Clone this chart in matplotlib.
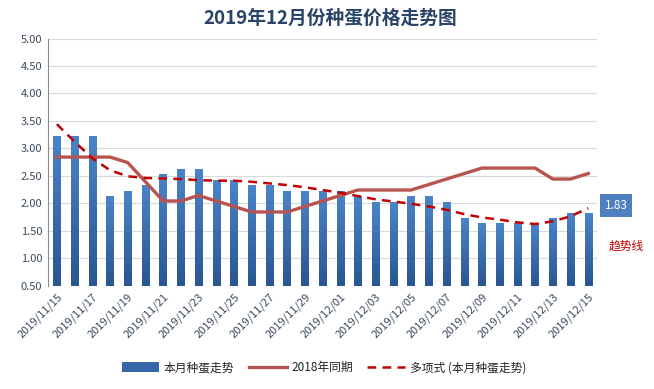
import matplotlib
matplotlib.use("Agg")
import matplotlib.pyplot as plt
import numpy as np
from matplotlib.colors import LinearSegmentedColormap
from matplotlib.patches import Patch

plt.rcParams['font.family'] = ['Noto Sans CJK SC', 'DejaVu Sans']

dates = ["2019/11/15", "2019/11/16", "2019/11/17", "2019/11/18", "2019/11/19", "2019/11/20",
         "2019/11/21", "2019/11/22", "2019/11/23", "2019/11/24", "2019/11/25", "2019/11/26",
         "2019/11/27", "2019/11/28", "2019/11/29", "2019/11/30", "2019/12/01", "2019/12/02",
         "2019/12/03", "2019/12/04", "2019/12/05", "2019/12/06", "2019/12/07", "2019/12/08",
         "2019/12/09", "2019/12/10", "2019/12/11", "2019/12/12", "2019/12/13", "2019/12/14",
         "2019/12/15"]
this_month = [3.23, 3.23, 3.23, 2.13, 2.23, 2.33, 2.53, 2.63, 2.63, 2.43, 2.43, 2.33,
              2.33, 2.23, 2.23, 2.23, 2.23, 2.13, 2.03, 2.03, 2.13, 2.13, 2.03, 1.73,
              1.63, 1.63, 1.63, 1.63, 1.73, 1.83, 1.83]
last_year = [2.84, 2.84, 2.84, 2.84, 2.74, 2.39, 2.04, 2.04, 2.14, 2.04, 1.94, 1.84,
             1.84, 1.84, 1.94, 2.04, 2.14, 2.24, 2.24, 2.24, 2.24, 2.34, 2.44, 2.54,
             2.64, 2.64, 2.64, 2.64, 2.44, 2.44, 2.54]
trend = [3.44, 3.12, 2.82, 2.60, 2.49, 2.46, 2.45, 2.44, 2.42, 2.41, 2.41, 2.39,
         2.36, 2.33, 2.29, 2.24, 2.19, 2.13, 2.07, 2.03, 1.99, 1.94, 1.88, 1.80,
         1.74, 1.70, 1.65, 1.62, 1.67, 1.76, 1.91]
yticks = [0.5, 1.0, 1.5, 2.0, 2.5, 3.0, 3.5, 4.0, 4.5, 5.0]

title = "2019年12月份种蛋价格走势图"
series_names = ["本月种蛋走势", "2018年同期", "多项式 (本月种蛋走势)"]

fig = plt.figure(figsize=(6.54, 3.89), dpi=100)
ax = fig.add_axes([0.0734, 0.266, 0.8396, 0.635])

x = np.arange(len(dates))
ymin = 0.5
bars = ax.bar(x, np.array(this_month) - ymin, bottom=ymin, width=0.42,
              color="#3C72B8", zorder=2)

# gradient fill for bars
grad = np.linspace(0, 1, 256).reshape(-1, 1)
cmap = LinearSegmentedColormap.from_list("g", ["#2A5690", "#4A84C8"])
for b in bars:
    bx, by = b.get_x(), b.get_y()
    w, h = b.get_width(), b.get_height()
    im = ax.imshow(grad, cmap=cmap, extent=[bx, bx + w, by, by + h], origin="lower",
                   aspect="auto", zorder=2.1, interpolation="bilinear")
    im.set_clip_path(b)

l1, = ax.plot(x, last_year, color="#B85450", lw=2.4, zorder=3)
l2, = ax.plot(x, trend, color="#C00000", lw=1.8, ls=(0, (3.5, 2.5)), zorder=4)

ax.set_xlim(-0.5, len(dates) - 0.5)
ax.set_ylim(0.5, 5.0)
ax.set_yticks(yticks)
ax.set_yticklabels([f"{v:.2f}" for v in yticks], fontsize=8, color="#3B4A5E")
ax.set_xticks(x[::2])
ax.set_xticklabels(dates[::2], rotation=45, ha="right", rotation_mode="anchor",
                   fontsize=8, color="#3B4A5E")
ax.tick_params(axis="both", length=0, pad=4)
ax.grid(axis="y", color="#D9D9D9", lw=0.8, zorder=0)
ax.set_axisbelow(True)
for s in ["top", "right", "bottom"]:
    ax.spines[s].set_visible(False)
ax.spines["left"].set_color("#8C8C8C")
ax.spines["left"].set_linewidth(0.8)

fig.text(0.505, 0.953, title, ha="center", va="center", fontsize=13.5,
         fontweight="bold", color="#2A4468")

# data label
ax.annotate(f"{this_month[-1]:.2f}", xy=(x[-1], this_month[-1]), xytext=(20, 5),
            textcoords="offset points", ha="center", va="center", fontsize=8.5,
            color="white", bbox=dict(boxstyle="square,pad=0.4", fc="#4F7FBE", ec="none"),
            annotation_clip=False, zorder=6)
fig.text(0.958, 0.368, "趋势线", ha="center", va="center", fontsize=8.5, color="#C00000")

bar_handle = Patch(facecolor="#3566A8", edgecolor="none")
leg = fig.legend([bar_handle, l1, l2], series_names, loc="center",
                 bbox_to_anchor=(0.495, 0.055), ncol=3, frameon=False,
                 fontsize=8.5, handlelength=3.2, handleheight=0.8,
                 columnspacing=1.2, handletextpad=0.4)
for t in leg.get_texts():
    t.set_color("#222222")

fig.savefig("out.png", dpi=100)
